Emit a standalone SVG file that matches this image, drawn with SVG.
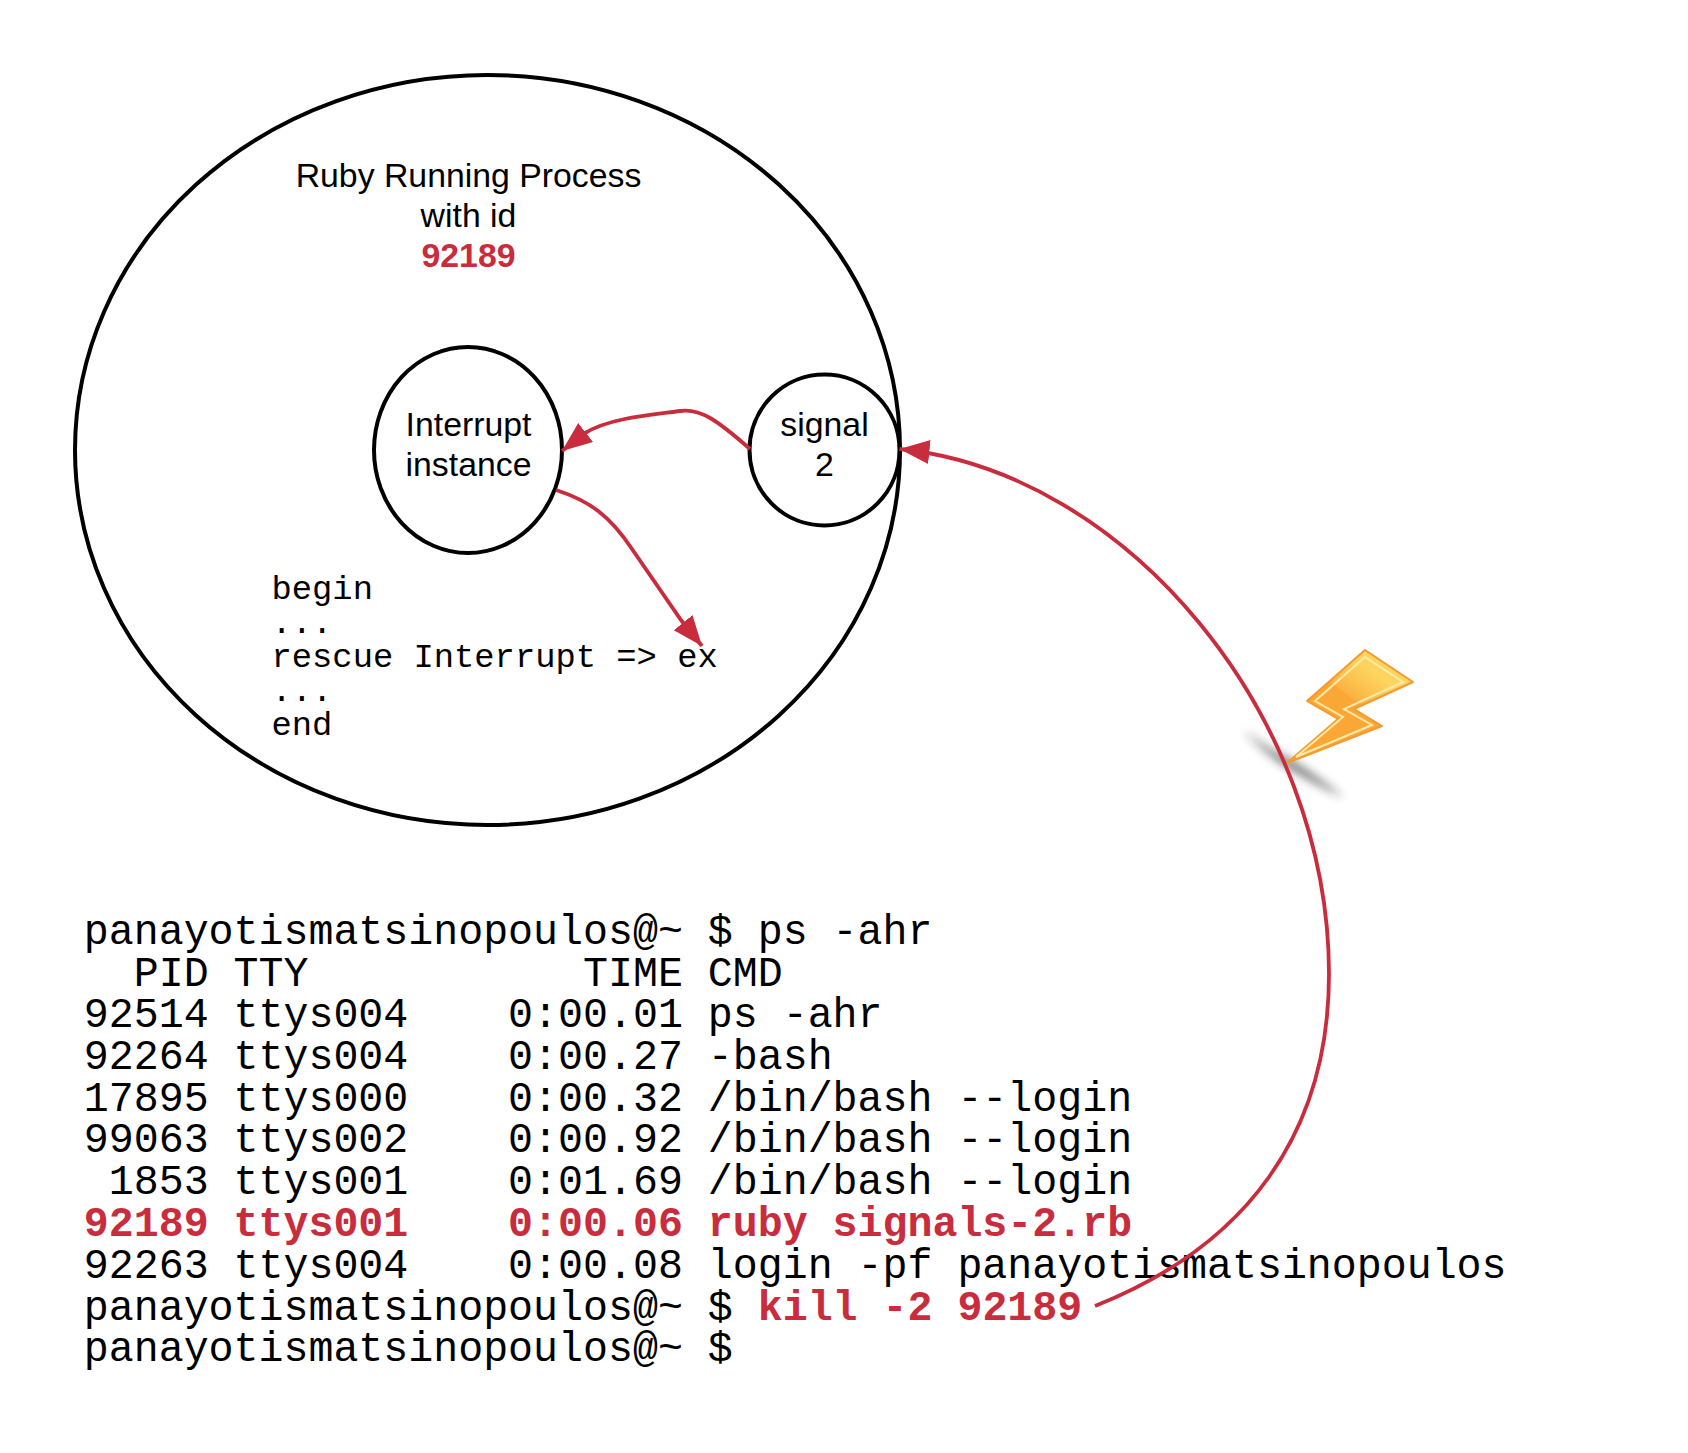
<svg xmlns="http://www.w3.org/2000/svg" width="1688" height="1453" viewBox="0 0 1688 1453">
<style>
.n{fill:none;stroke:#000;stroke-width:4}
.c{fill:none;stroke:#c92c3c;stroke-width:3.8}
.l{font-family:"Liberation Sans",Arial,sans-serif;font-size:33.8px;fill:#000;text-anchor:middle}
.code{font-family:"Liberation Mono","Courier New",monospace;font-size:33.8px;fill:#000;white-space:pre}
.t{font-family:"Liberation Mono","Courier New",monospace;font-size:41.6px;fill:#000;white-space:pre}
.r{fill:#c92c3c;font-weight:bold}
</style>
<defs>
<marker id="a" markerUnits="userSpaceOnUse" markerWidth="32" markerHeight="26" refX="30" refY="12" orient="auto"><path d="M0 0L30 12L0 24z" fill="#c92c3c"/></marker>
<linearGradient id="b" gradientUnits="userSpaceOnUse" x1="1345" y1="694" x2="1366" y2="666"><stop offset="0" stop-color="#faa735"/><stop offset="0.05" stop-color="#fbb342"/><stop offset="1" stop-color="#fdd55e"/></linearGradient>
<filter id="blur" x="-30%" y="-100%" width="160%" height="300%"><feGaussianBlur stdDeviation="5"/></filter>
</defs>
<g id="process"><ellipse class="n" cx="487.500" cy="450" rx="412.500" ry="375"/>
<text class="l" x="468.500" y="187">Ruby Running Process</text>
<text class="l" x="468.500" y="227">with id</text>
<text class="l r" x="468.500" y="267">92189</text></g>
<g id="interrupt"><ellipse class="n" cx="468" cy="450" rx="94" ry="103"/>
<text class="l" x="468.500" y="436">Interrupt</text>
<text class="l" x="468.500" y="476">instance</text></g>
<g id="signal"><ellipse class="n" cx="824.500" cy="450" rx="75" ry="75.500"/>
<text class="l" x="824.500" y="436">signal</text>
<text class="l" x="824.500" y="476">2</text></g>
<g id="code"><text class="code" x="271.500" y="599">begin</text>
<text class="code" x="271.500" y="633">...</text>
<text class="code" x="271.500" y="667">rescue Interrupt =&gt; ex</text>
<text class="code" x="271.500" y="701">...</text>
<text class="code" x="271.500" y="735">end</text></g>
<g id="terminal">
<text class="t" x="83.800" y="943.500">panayotismatsinopoulos@~ $ ps -ahr</text>
<text class="t" x="83.800" y="985.500">  PID TTY           TIME CMD</text>
<text class="t" x="83.800" y="1027.300">92514 ttys004    0:00.01 ps -ahr</text>
<text class="t" x="83.800" y="1069">92264 ttys004    0:00.27 -bash</text>
<text class="t" x="83.800" y="1110.700">17895 ttys000    0:00.32 /bin/bash --login</text>
<text class="t" x="83.800" y="1152.400">99063 ttys002    0:00.92 /bin/bash --login</text>
<text class="t" x="83.800" y="1194.200"> 1853 ttys001    0:01.69 /bin/bash --login</text>
<text class="t r" x="83.800" y="1236">92189 ttys001    0:00.06 ruby signals-2.rb</text>
<text class="t" x="83.800" y="1277.700">92263 ttys004    0:00.08 login -pf panayotismatsinopoulos</text>
<text class="t" x="83.800" y="1319.500">panayotismatsinopoulos@~ $ <tspan class="r">kill -2 92189</tspan></text>
<text class="t" x="83.800" y="1361">panayotismatsinopoulos@~ $</text>
</g>
<g id="bolt">
<path d="M1243 730C1258 746 1272 758 1288 768C1308 780 1328 791 1343 797C1328 784 1308 770 1292 760C1272 750 1256 740 1243 730z" fill="#222" opacity=".6" filter="url(#blur)"/>
<path d="M1287 763L1338 719L1307 701L1365 650L1413 682L1354 709L1382 726z" fill="url(#b)" stroke="#f59a2f" stroke-width="2" stroke-linejoin="round"/>
<path d="M1296 757L1343 717L1315 701L1365 657L1403 682L1344 709L1372 725z" fill="none" stroke="#fdeaa8" stroke-width="2"/>
</g>
<g id="connectors">
<path class="c" d="M1095 1306C1246 1246 1329 1134 1329 974C1329 717 1128 472 899.500 449" marker-end="url(#a)"/>
<path class="c" d="M750 449C717 420 700 408 680 411C650 415 610 418 585 433L562 451" marker-end="url(#a)"/>
<path class="c" d="M556 490C590 501 610 516 632 549L681 620L702 646" marker-end="url(#a)"/>
</g>
</svg>
